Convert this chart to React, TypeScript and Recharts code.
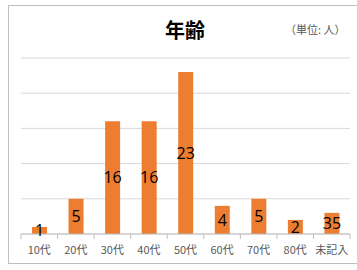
import { BarChart, Bar, XAxis, YAxis, CartesianGrid, LabelList } from 'recharts';

const categories = ['10代', '20代', '30代', '40代', '50代', '60代', '70代', '80代', '未記入'];
const counts = [1, 5, 16, 16, 23, 4, 5, 2, 3];
const labels = ['1', '5', '16', '16', '23', '4', '5', '2', '35'];
const yTicks = [0, 5, 10, 15, 20, 25];

const data = categories.map((c, i) => ({ name: c, value: counts[i], label: labels[i] }));

const FONT = '"Noto Sans CJK JP", "Noto Sans", sans-serif';

// Excel風: 目盛り線はカテゴリの境界に描く
function CategoryTick(props: any) {
  const { x, y, payload, index, visibleTicksCount } = props;
  const half = payload && payload.offset ? payload.offset : 18.3;
  const isLast = index === visibleTicksCount - 1;
  return (
    <g>
      <line x1={x - half} y1={y - 8} x2={x - half} y2={y - 3} stroke="#bfbfbf" />
      {isLast && <line x1={x + half} y1={y - 8} x2={x + half} y2={y - 3} stroke="#bfbfbf" />}
      <text x={x} y={y + 12} textAnchor="middle" fontSize={11} fill="#595959" fontFamily={FONT}>
        {payload.value}
      </text>
    </g>
  );
}

export default function App() {
  return (
    <div
      style={{
        position: 'absolute',
        left: 8,
        top: 5,
        width: 360,
        height: 257,
        border: '1px solid #bfbfbf',
        background: '#fff',
      }}
    >
      <div
        style={{
          position: 'absolute',
          left: 126,
          width: 100,
          top: 12,
          textAlign: 'center',
          fontSize: 20,
          lineHeight: '24px',
          fontWeight: 'bold',
          fontFamily: FONT,
          color: '#000',
        }}
      >
        年齢
      </div>
      <div
        style={{
          position: 'absolute',
          left: 276,
          top: 15,
          fontSize: 11,
          lineHeight: '16px',
          fontFamily: FONT,
          color: '#595959',
          whiteSpace: 'nowrap',
        }}
      >
        （単位: 人）
      </div>
      <BarChart
        width={355}
        height={257}
        data={data}
        margin={{ top: 52, left: 12, right: 14, bottom: 9 }}
        barCategoryGap={0}
      >
        <CartesianGrid vertical={false} stroke="#d9d9d9" strokeWidth={1} />
        <YAxis hide domain={[0, 25]} ticks={yTicks} />
        <XAxis
          dataKey="name"
          height={20}
          axisLine={{ stroke: '#bfbfbf' }}
          tickLine={false}
          tick={<CategoryTick />}
          interval={0}
        />
        <Bar dataKey="value" fill="#ed7d31" barSize={15} isAnimationActive={false}>
          <LabelList dataKey="label" position="center" fill="#000" fontSize={16} fontFamily='"Open Sans", sans-serif' />
        </Bar>
      </BarChart>
    </div>
  );
}
